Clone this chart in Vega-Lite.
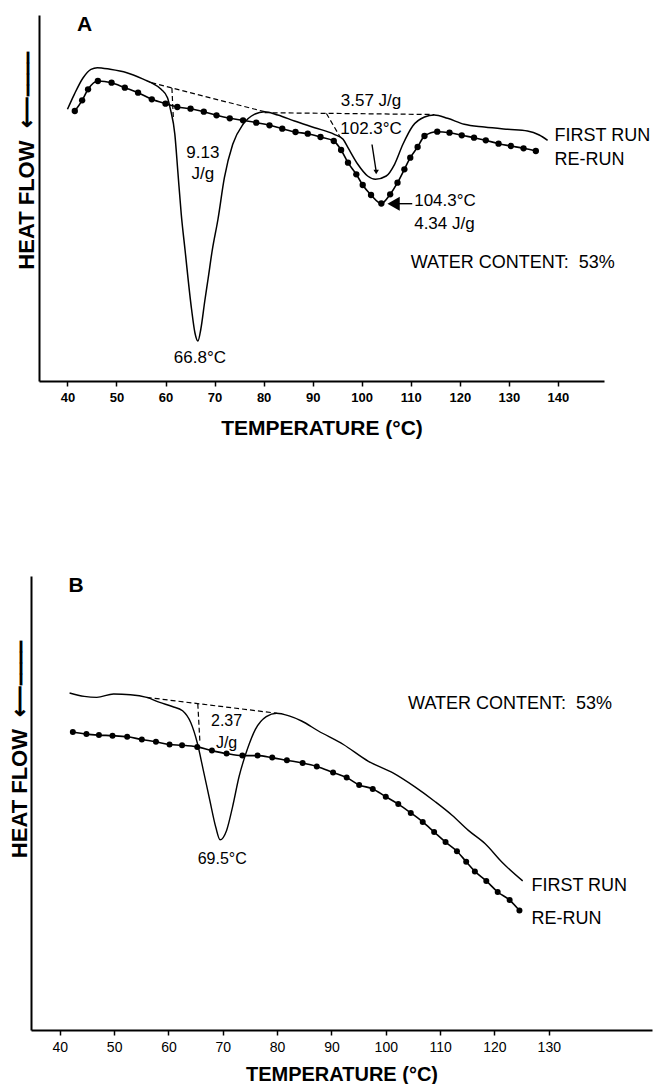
{
  "$schema": "https://vega.github.io/schema/vega-lite/v6.json",
  "background": "white",
  "padding": {"left": 8, "top": 14, "right": 0, "bottom": 0},
  "autosize": {"type": "pad"},
  "bounds": "flush",
  "spacing": 195,
  "config": {
    "view": {"stroke": null},
    "font": "Liberation Sans",
    "axis": {"grid": false, "domainColor": "black", "tickColor": "black", "labelColor": "black", "titleColor": "black"}
  },
  "datasets": {
    "a_first": [
      {"t":40.0,"hf":271.7},{"t":41.4,"hf":286.7},{"t":43.2,"hf":303.3},{"t":44.8,"hf":311.7},{"t":46.1,"hf":313.3},{"t":48.7,"hf":311.7},{"t":52.1,"hf":308.3},{"t":56.3,"hf":300},{"t":57.1,"hf":298.3},{"t":59.1,"hf":291.7},{"t":60.4,"hf":283.3},{"t":61.0,"hf":271.7},{"t":61.9,"hf":246.7},{"t":62.5,"hf":210},{"t":63.2,"hf":167},{"t":64.0,"hf":130},{"t":65.3,"hf":72},{"t":66.0,"hf":48},{"t":66.6,"hf":40},{"t":67.2,"hf":52},{"t":68.0,"hf":80},{"t":68.7,"hf":103},{"t":69.5,"hf":130},{"t":70.7,"hf":162},{"t":72.0,"hf":203.3},{"t":73.7,"hf":236.7},{"t":75.8,"hf":256.7},{"t":78.1,"hf":266.7},{"t":80.2,"hf":269.3},{"t":82.9,"hf":266},{"t":86.3,"hf":260},{"t":90.4,"hf":253.3},{"t":94.4,"hf":246.7},{"t":96.2,"hf":241.7},{"t":97.2,"hf":233.3},{"t":99.2,"hf":216.7},{"t":101.2,"hf":205},{"t":102.8,"hf":201.7},{"t":105.0,"hf":205},{"t":106.7,"hf":216.7},{"t":108.4,"hf":236.7},{"t":110.4,"hf":255},{"t":112.8,"hf":264},{"t":114.8,"hf":266},{"t":117.5,"hf":262.7},{"t":120.9,"hf":256.7},{"t":125.0,"hf":254},{"t":129.8,"hf":251.7},{"t":133.8,"hf":250},{"t":136.2,"hf":246},{"t":137.9,"hf":240.7}
    ],
    "a_rerun": [
      {"t":41.5,"hf":270},{"t":43.0,"hf":280.7},{"t":44.2,"hf":291.7},{"t":46.2,"hf":300},{"t":49.0,"hf":298.3},{"t":51.7,"hf":293.3},{"t":54.4,"hf":288.3},{"t":57.2,"hf":281.7},{"t":60.0,"hf":277.3},{"t":62.4,"hf":274},{"t":65.1,"hf":272.3},{"t":67.8,"hf":269.3},{"t":70.4,"hf":265.7},{"t":73.1,"hf":262.7},{"t":75.8,"hf":260.7},{"t":78.5,"hf":258.3},{"t":81.2,"hf":255.7},{"t":83.8,"hf":252.3},{"t":86.5,"hf":249},{"t":89.0,"hf":247.3},{"t":91.6,"hf":244},{"t":94.3,"hf":240},{"t":95.8,"hf":231},{"t":97.2,"hf":218.3},{"t":98.9,"hf":206.7},{"t":100.2,"hf":196},{"t":101.9,"hf":186},{"t":104.0,"hf":177.5},{"t":105.8,"hf":186.7},{"t":107.3,"hf":198.3},{"t":108.7,"hf":211.7},{"t":109.9,"hf":223.3},{"t":111.4,"hf":234},{"t":112.8,"hf":245},{"t":115.4,"hf":249.3},{"t":117.9,"hf":248.3},{"t":120.4,"hf":245.7},{"t":122.9,"hf":243.3},{"t":125.3,"hf":240.7},{"t":127.9,"hf":237.3},{"t":130.4,"hf":235},{"t":133.0,"hf":232.7},{"t":135.5,"hf":230}
    ],
    "a_base": [
      {"seg":1,"t":57.1,"hf":298.3},{"seg":1,"t":80.2,"hf":269.3},
      {"seg":2,"t":61.3,"hf":293},{"seg":2,"t":61.6,"hf":262},
      {"seg":3,"t":80.2,"hf":268.3},{"seg":3,"t":114.8,"hf":266.5},
      {"seg":4,"t":92.8,"hf":267.5},{"seg":4,"t":95.6,"hf":244}
    ],
    "a_shaft": [
      {"seg":1,"t":102.1,"hf":236.5},{"seg":1,"t":102.9,"hf":211},
      {"seg":2,"t":107.5,"hf":177.3},{"seg":2,"t":110.3,"hf":177.3}
    ],
    "a_head_down": [{"t":102.95,"hf":209}],
    "a_head_left": [{"t":106.5,"hf":177.3}],
    "a_text_c": [
      {"label":"9.13","t":67.6,"hf":228.3},{"label":"J/g","t":67.6,"hf":206.7},{"label":"66.8°C","t":67.0,"hf":23.3},{"label":"3.57 J/g","t":101.9,"hf":280},{"label":"102.3°C","t":101.9,"hf":251.7}
    ],
    "a_text_l": [
      {"label":"104.3°C","t":110.7,"hf":180},{"label":"4.34 J/g","t":110.7,"hf":157.3}
    ],
    "a_text_w": [
      {"label":"WATER CONTENT:\u00a0 53%","t":110.0,"hf":118.3},{"label":"FIRST RUN","t":139.3,"hf":245},{"label":"RE-RUN","t":139.3,"hf":220.7}
    ],
    "a_panel": [{"label":"A","t":43.5,"hf":356}],
    "b_first": [
      {"t":41.8,"hf":337},{"t":44.5,"hf":333.6},{"t":46.8,"hf":332.6},{"t":49.9,"hf":336},{"t":53.0,"hf":335.3},{"t":56.0,"hf":332.6},{"t":58.4,"hf":327.6},{"t":60.7,"hf":323.5},{"t":62.6,"hf":319.2},{"t":64.1,"hf":307.4},{"t":65.3,"hf":287.2},{"t":66.4,"hf":260.2},{"t":67.6,"hf":230},{"t":68.7,"hf":203},{"t":69.5,"hf":190.2},{"t":70.7,"hf":199.6},{"t":71.8,"hf":223.2},{"t":73.0,"hf":253.5},{"t":74.5,"hf":280.4},{"t":76.0,"hf":300.6},{"t":78.0,"hf":313.4},{"t":79.9,"hf":316.8},{"t":82.2,"hf":314.1},{"t":84.5,"hf":309},{"t":87.6,"hf":299},{"t":92.2,"hf":285.5},{"t":96.8,"hf":268.7},{"t":101.4,"hf":256.9},{"t":105.3,"hf":243.4},{"t":109.1,"hf":228.3},{"t":112.2,"hf":214.8},{"t":115.2,"hf":199.6},{"t":118.3,"hf":186.2},{"t":121.4,"hf":167.7},{"t":125.2,"hf":149.1}
    ],
    "b_rerun": [
      {"t":42.4,"hf":298},{"t":44.9,"hf":295.9},{"t":47.2,"hf":294.9},{"t":49.7,"hf":294.3},{"t":52.4,"hf":293.2},{"t":55.1,"hf":290.5},{"t":57.7,"hf":288.2},{"t":60.2,"hf":285.5},{"t":62.5,"hf":284.8},{"t":65.3,"hf":283.1},{"t":68.0,"hf":279.4},{"t":70.7,"hf":276.4},{"t":73.6,"hf":274.4},{"t":76.4,"hf":274.4},{"t":79.1,"hf":272.4},{"t":81.8,"hf":269.7},{"t":84.7,"hf":267},{"t":87.3,"hf":263.6},{"t":90.3,"hf":257.6},{"t":92.8,"hf":252.5},{"t":95.1,"hf":245.1},{"t":97.6,"hf":241.1},{"t":100.0,"hf":233.3},{"t":102.3,"hf":225.9},{"t":104.6,"hf":217.1},{"t":106.8,"hf":208.1},{"t":108.9,"hf":198},{"t":111.0,"hf":187.9},{"t":113.1,"hf":178.8},{"t":114.8,"hf":168.3},{"t":116.4,"hf":158.6},{"t":118.5,"hf":149.1},{"t":120.6,"hf":138},{"t":122.8,"hf":129.9},{"t":124.6,"hf":119.5}
    ],
    "b_base": [
      {"seg":1,"t":56.0,"hf":332.6},{"seg":1,"t":79.9,"hf":316.8},
      {"seg":2,"t":65.4,"hf":326.3},{"seg":2,"t":65.8,"hf":287}
    ],
    "b_text_c": [
      {"label":"2.37","t":70.7,"hf":309},{"label":"J/g","t":70.7,"hf":287.2},{"label":"69.5°C","t":69.9,"hf":171}
    ],
    "b_text_w": [
      {"label":"WATER CONTENT:\u00a0 53%","t":104.1,"hf":325.9},{"label":"FIRST RUN","t":126.8,"hf":144},{"label":"RE-RUN","t":126.8,"hf":111.4}
    ],
    "b_panel": [{"label":"B","t":43.0,"hf":443.7}]
  },
  "vconcat": [
    {
      "width": 565,
      "height": 366,
      "encoding": {
        "x": {"field": "t", "type": "quantitative", "scale": {"domain": [34.2, 149.4], "nice": false, "zero": false},
          "axis": {"values": [40,50,60,70,80,90,100,110,120,130,140], "title": "TEMPERATURE (°C)", "labelFontWeight": "bold", "labelFontSize": 13, "labelPadding": 5, "tickSize": 5, "tickWidth": 1.5, "domainWidth": 2, "titleFontSize": 21, "titleFontWeight": "bold", "titlePadding": 13}},
        "y": {"field": "hf", "type": "quantitative", "scale": {"domain": [0, 366], "nice": false},
          "axis": {"title": "HEAT FLOW\u00a0\u00a0⟵⎯⎯⎯⎯", "ticks": false, "labels": false, "domainWidth": 2, "titleFontSize": 22, "titleFontWeight": "bold", "titleBaseline": "middle", "titleX": -13, "titleY": 145.5}}
      },
      "layer": [
        {"data": {"name": "a_base"}, "mark": {"type": "line", "color": "black", "strokeWidth": 1.2, "strokeDash": [5, 3]}, "encoding": {"detail": {"field": "seg"}}},
        {"data": {"name": "a_first"}, "mark": {"type": "line", "color": "black", "strokeWidth": 1.5, "interpolate": "monotone"}},
        {"data": {"name": "a_rerun"}, "mark": {"type": "line", "color": "black", "strokeWidth": 1.6, "interpolate": "monotone", "point": {"filled": true, "size": 40, "color": "black", "opacity": 1}}},
        {"data": {"name": "a_shaft"}, "mark": {"type": "line", "color": "black", "strokeWidth": 1.4}, "encoding": {"detail": {"field": "seg"}}},
        {"data": {"name": "a_head_down"}, "mark": {"type": "point", "shape": "triangle-down", "filled": true, "size": 30, "color": "black", "opacity": 1}},
        {"data": {"name": "a_head_left"}, "mark": {"type": "point", "shape": "triangle-left", "filled": true, "size": 200, "color": "black", "opacity": 1}},
        {"data": {"name": "a_text_c"}, "mark": {"type": "text", "align": "center", "baseline": "middle", "fontSize": 17, "color": "black"}, "encoding": {"text": {"field": "label"}}},
        {"data": {"name": "a_text_l"}, "mark": {"type": "text", "align": "left", "baseline": "middle", "fontSize": 17, "color": "black"}, "encoding": {"text": {"field": "label"}}},
        {"data": {"name": "a_text_w"}, "mark": {"type": "text", "align": "left", "baseline": "middle", "fontSize": 18, "letterSpacing": 0.7, "color": "black"}, "encoding": {"text": {"field": "label"}}},
        {"data": {"name": "a_panel"}, "mark": {"type": "text", "align": "center", "baseline": "middle", "fontSize": 21, "fontWeight": "bold", "color": "black"}, "encoding": {"text": {"field": "label"}}}
      ]
    },
    {
      "width": 613,
      "height": 454,
      "encoding": {
        "x": {"field": "t", "type": "quantitative", "scale": {"domain": [34.7, 149.0], "range": [-8, 613], "nice": false, "zero": false},
          "axis": {"values": [40,50,60,70,80,90,100,110,120,130], "title": "TEMPERATURE (°C)", "labelFontSize": 14, "labelPadding": 5, "tickSize": 5, "tickWidth": 1.5, "domainWidth": 2, "titleFontSize": 20, "titleFontWeight": "bold", "titlePadding": 10}},
        "y": {"field": "hf", "type": "quantitative", "scale": {"domain": [0, 454], "nice": false},
          "axis": {"title": "HEAT FLOW\u00a0\u00a0⟵⎯⎯⎯⎯", "offset": 8, "ticks": false, "labels": false, "domainWidth": 2, "titleFontSize": 22, "titleFontWeight": "bold", "titleBaseline": "middle", "titleX": -11.2, "titleY": 173}}
      },
      "layer": [
        {"data": {"name": "b_base"}, "mark": {"type": "line", "color": "black", "strokeWidth": 1.2, "strokeDash": [5, 3]}, "encoding": {"detail": {"field": "seg"}}},
        {"data": {"name": "b_first"}, "mark": {"type": "line", "color": "black", "strokeWidth": 1.4, "interpolate": "monotone"}},
        {"data": {"name": "b_rerun"}, "mark": {"type": "line", "color": "black", "strokeWidth": 1.6, "interpolate": "monotone", "point": {"filled": true, "size": 36, "color": "black", "opacity": 1}}},
        {"data": {"name": "b_text_c"}, "mark": {"type": "text", "align": "center", "baseline": "middle", "fontSize": 16, "color": "black"}, "encoding": {"text": {"field": "label"}}},
        {"data": {"name": "b_text_w"}, "mark": {"type": "text", "align": "left", "baseline": "middle", "fontSize": 18, "letterSpacing": 0.7, "color": "black"}, "encoding": {"text": {"field": "label"}}},
        {"data": {"name": "b_panel"}, "mark": {"type": "text", "align": "center", "baseline": "middle", "fontSize": 21, "fontWeight": "bold", "color": "black"}, "encoding": {"text": {"field": "label"}}}
      ]
    }
  ]
}
